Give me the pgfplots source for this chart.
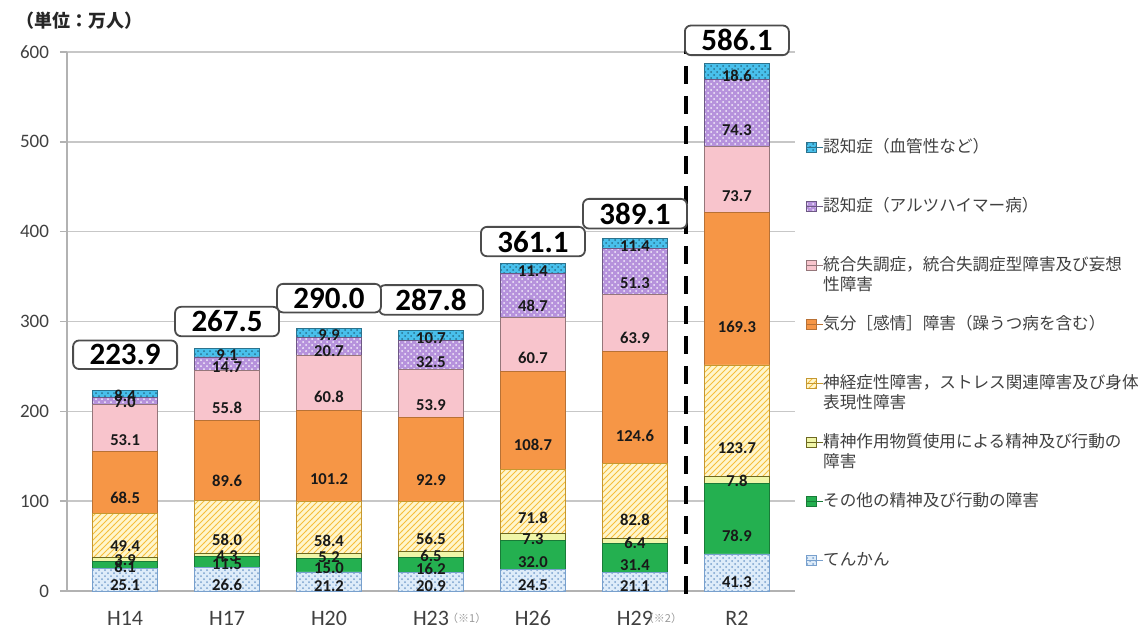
\documentclass[border=0pt]{standalone}
\usepackage{fontspec}
\setmainfont{Carlito}
\newfontfamily\jp{Noto Sans CJK JP}
\usepackage{pgfplots}
\usepackage{pgfplotstable}
\pgfplotsset{compat=1.18}
\usetikzlibrary{patterns}

\definecolor{cTen}{RGB}{222,236,249}
\definecolor{cTenP}{RGB}{120,160,205}
\definecolor{cOth}{RGB}{36,176,80}
\definecolor{cSub}{RGB}{240,246,168}
\definecolor{cNeuF}{RGB}{255,246,205}
\definecolor{cNeuP}{RGB}{246,190,60}
\definecolor{cMood}{RGB}{246,150,70}
\definecolor{cSch}{RGB}{248,196,204}
\definecolor{cAlz}{RGB}{182,146,220}
\definecolor{cVas}{RGB}{72,192,236}
\definecolor{txtc}{RGB}{64,64,64}

\pgfplotstableread{
x  a     b     c    d     e     f    g    h
0  25.1  8.1   3.9  49.4  68.5  53.1 7.0  8.4
1  26.6  11.5  4.3  58.0  89.6  55.8 14.7 9.1
2  21.2  15.0  5.2  58.4  101.2 60.8 20.7 9.9
3  20.9  16.2  6.5  56.5  92.9  53.9 32.5 10.7
4  24.5  32.0  7.3  71.8  108.7 60.7 48.7 11.4
5  21.1  31.4  6.4  82.8  124.6 63.9 51.3 11.4
6  41.3  78.9  7.8  123.7 169.3 73.7 74.3 18.6
}\mydata

\tikzset{totbox/.style={draw=black!70, line width=0.9pt, rounded corners=3pt, fill=white,
  font=\bfseries\fontsize{15.5}{17}\selectfont, inner xsep=8pt, inner ysep=2pt, minimum width=52pt}}

\pgfkeys{/pgfplots/calcoff/.code={%
  \pgfkeys{/pgf/fpu=true,/pgf/fpu/output format=fixed}%
  \pgfmathsetmacro\myoff{0.1122917*\pgfplotspointmeta}%
  \pgfkeys{/pgf/fpu=false}}}

\begin{document}
\begin{tikzpicture}
\useasboundingbox (-33.5pt,-24pt) rectangle (538.5pt,295.5pt);
\begin{axis}[
  at={(0,0)}, anchor=south west,
  scale only axis, width=364pt, height=269.5pt,
  ybar stacked, bar width=32.5pt,
  xmin=-0.57, xmax=6.57, ymin=0, ymax=600,
  xtick={0,...,6},
  xticklabels={H14,H17,H20,H23,H26,H29,R2},
  ytick={0,100,...,600},
  axis x line=bottom, axis y line=left,
  axis line style={-, draw=black!30, line width=0.8pt},
  ymajorgrids, grid style={draw=black!22, line width=0.7pt},
  xtick style={draw=none},
  ytick style={draw=black!30, line width=0.8pt},
  tick align=outside, major tick length=3.5pt,
  /pgf/number format/assume math mode=true,
  yticklabel style={font=\fontsize{9.5}{11}\selectfont, text=txtc, xshift=-2pt},
  xticklabel style={font=\fontsize{11}{13}\selectfont, text=txtc, yshift=-3pt},
  clip=false,
  point meta=explicit,
  nodes near coords={\pgfmathprintnumber[fixed,fixed zerofill,precision=1]{\pgfplotspointmeta}},
  every node near coord/.append style={font=\bfseries\fontsize{8.3}{9}\selectfont, text=black!90, anchor=center, inner sep=0pt,
     /pgfplots/calcoff, yshift=-\myoff pt},
  legend style={at={(1.015,0.8386)}, anchor=north west, draw=none, fill=none,
    inner sep=0pt, row sep=21.5pt, column sep=0pt,
    font=\jp\fontsize{8.3}{10}\selectfont, text=txtc,
    nodes={text height=6.5pt, text depth=1.5pt, inner sep=0pt}},
  legend cell align=left,
  reverse legend,
  legend image code/.code={\draw[#1, line width=0.5pt] (0pt,-2.5pt) rectangle (5pt,2.5pt); \path (0pt,0pt) -- (8pt,0pt);},
]
\addplot[fill=cTen, draw=cTenP, postaction={pattern=crosshatch dots, pattern color=cTenP}]
  table[x=x,y=a,meta=a]{\mydata};
\addlegendentry{てんかん}
\addplot[fill=cOth, draw=cOth!70!black]
  table[x=x,y=b,meta=b]{\mydata};
\addlegendentry{その他の精神及び行動の障害}
\addplot[fill=cSub, draw=olive!70!black]
  table[x=x,y=c,meta=c]{\mydata};
\addlegendentry{\begin{tabular}[t]{@{}l@{}}精神作用物質使用による精神及び行動の\\障害\end{tabular}}
\addplot[fill=cNeuF, draw=cNeuP!80!black, postaction={pattern=north east lines, pattern color=cNeuP}]
  table[x=x,y=d,meta=d]{\mydata};
\addlegendentry{\begin{tabular}[t]{@{}l@{}}神経症性障害，ストレス関連障害及び身体\\表現性障害\end{tabular}}
\addplot[fill=cMood, draw=cMood!75!black]
  table[x=x,y=e,meta=e]{\mydata};
\addlegendentry{気分［感情］障害（躁うつ病を含む）}
\addplot[fill=cSch, draw=cSch!60!black]
  table[x=x,y=f,meta=f]{\mydata};
\addlegendentry{\begin{tabular}[t]{@{}l@{}}統合失調症，統合失調症型障害及び妄想\\性障害\end{tabular}}
\addplot[fill=cAlz, draw=cAlz!60!black, postaction={pattern=crosshatch dots, pattern color=white!85!cAlz}]
  table[x=x,y=g,meta=g]{\mydata};
\addlegendentry{認知症（アルツハイマー病）}
\addplot[fill=cVas, draw=cVas!60!black, postaction={pattern=crosshatch dots, pattern color=cVas!60!black}]
  table[x=x,y=h,meta=h]{\mydata};
\addlegendentry{認知症（血管性など）}

\node[totbox] at (axis cs:0,263) {223.9};
\node[totbox] at (axis cs:1,300) {267.5};
\node[totbox] at (axis cs:2,326) {290.0};
\node[totbox] at (axis cs:3,324) {287.8};
\node[totbox] at (axis cs:4,389) {361.1};
\node[totbox] at (axis cs:5,420) {389.1};
\node[totbox] at (axis cs:6,613) {586.1};
\draw[black, line width=2pt, dash pattern=on 9pt off 6pt] (axis cs:5.5,618) -- (axis cs:5.5,-16);
\node[font=\jp\fontsize{5.5}{6}\selectfont, text=black!40] at (axis cs:3.35,-30) {（※1）};
\node[font=\jp\fontsize{5.5}{6}\selectfont, text=black!40] at (axis cs:5.27,-30) {（※2）};
\node[font=\jp\bfseries\fontsize{9}{11}\selectfont, text=black!85, anchor=west] at (axis cs:-1.13,635) {（単位：万人）};
\end{axis}
\end{tikzpicture}
\end{document}
